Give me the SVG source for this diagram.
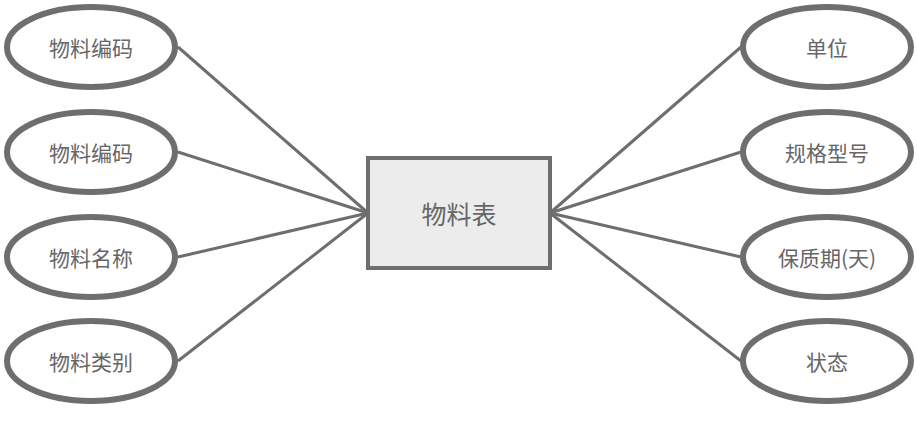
<svg xmlns="http://www.w3.org/2000/svg" width="917" height="426" viewBox="0 0 917 426">
<style>
.attr ellipse{fill:#ffffff;stroke:#6e6e6e;stroke-width:6}
.lbl{font-family:"Noto Sans CJK SC","Noto Sans",sans-serif;font-size:21px;fill:#666666;text-anchor:middle;dominant-baseline:central}
.conn line{stroke:#6e6e6e;stroke-width:3}
</style>
<rect width="917" height="426" fill="#ffffff"/>
<g id="connectors" class="conn">
<line x1="178" y1="47" x2="368" y2="213"/>
<line x1="178" y1="152" x2="368" y2="213"/>
<line x1="178" y1="257" x2="368" y2="213"/>
<line x1="178" y1="361" x2="368" y2="213"/>
<line x1="550" y1="213" x2="741" y2="47"/>
<line x1="550" y1="213" x2="741" y2="152"/>
<line x1="550" y1="213" x2="741" y2="257"/>
<line x1="550" y1="213" x2="741" y2="361"/>
</g>
<g id="n1" class="attr"><ellipse cx="91" cy="47" rx="84" ry="40"/><text class="lbl" x="91" y="47">物料编码</text></g>
<g id="n2" class="attr"><ellipse cx="91" cy="152" rx="84" ry="40"/><text class="lbl" x="91" y="152">物料编码</text></g>
<g id="n3" class="attr"><ellipse cx="91" cy="257" rx="84" ry="40"/><text class="lbl" x="91" y="257">物料名称</text></g>
<g id="n4" class="attr"><ellipse cx="91" cy="361" rx="84" ry="40"/><text class="lbl" x="91" y="361">物料类别</text></g>
<g id="n5" class="attr"><ellipse cx="827" cy="47" rx="84" ry="40"/><text class="lbl" x="827" y="47">单位</text></g>
<g id="n6" class="attr"><ellipse cx="827" cy="152" rx="84" ry="40"/><text class="lbl" x="827" y="152">规格型号</text></g>
<g id="n7" class="attr"><ellipse cx="827" cy="257" rx="84" ry="40"/><text class="lbl" x="827" y="257">保质期(天)</text></g>
<g id="n8" class="attr"><ellipse cx="827" cy="361" rx="84" ry="40"/><text class="lbl" x="827" y="361">状态</text></g>
<g id="entity"><rect x="368" y="158" width="182" height="110" fill="#ececec" stroke="#6e6e6e" stroke-width="4"/><text class="lbl" x="459" y="213" style="font-size:25px">物料表</text></g>
</svg>
